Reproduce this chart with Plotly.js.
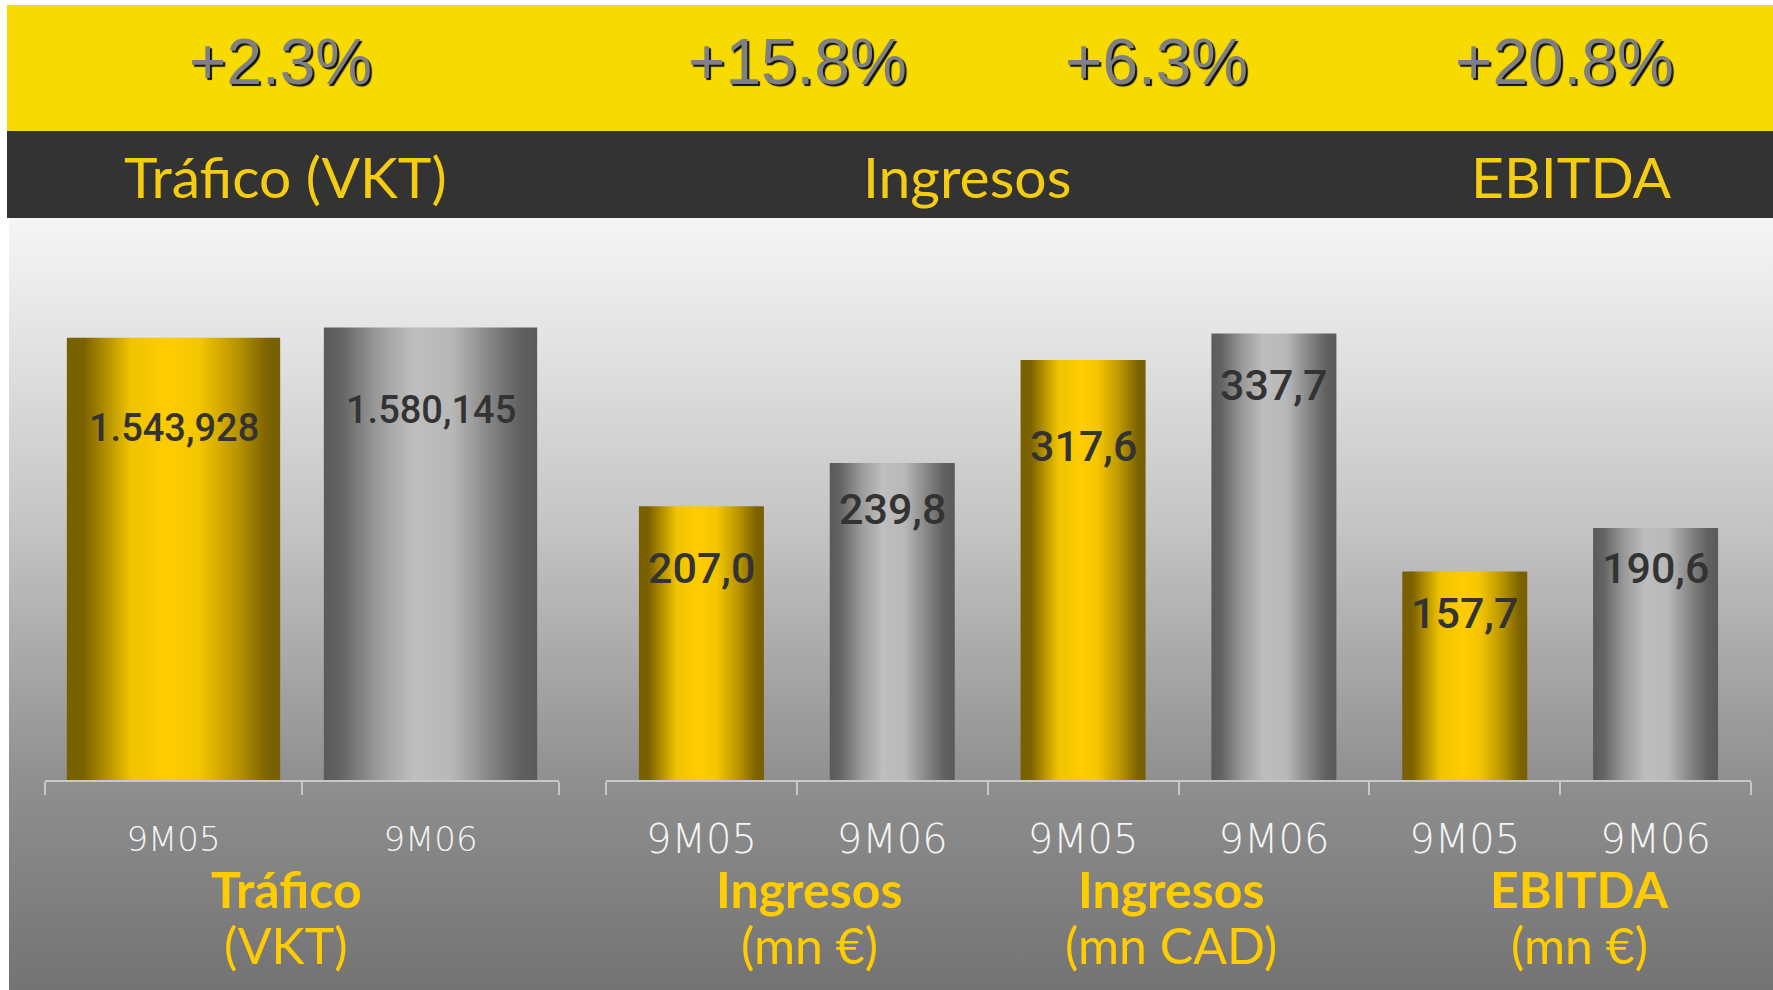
<!DOCTYPE html>
<html>
<head>
<meta charset="utf-8">
<script src="https://cdn.plot.ly/plotly-3.0.1.min.js"></script>
<style>
html, body { margin: 0; padding: 0; background: #ffffff; }
#bg { position: absolute; left: 9px; top: 218px; width: 1764px; height: 772px;
  background: linear-gradient(to bottom, #f5f5f5 0%, #e4e4e4 15%, #c4c4c4 40%, #8f8f8f 73%, #737373 100%); }
#chart { position: absolute; left: 0; top: 0; width: 1773px; height: 990px; }
</style>
</head>
<body>
<div id="bg"></div>
<div id="chart"></div>
<script>
// ---------------- DATA ----------------
const metrics = ["Tráfico", "Ingresos", "Ingresos", "EBITDA"];
const units = ["(VKT)", "(mn €)", "(mn CAD)", "(mn €)"];
const periods = ["9M05", "9M06"];
const values9M05 = [1543.928, 207.0, 317.6, 157.7];
const values9M06 = [1580.145, 239.8, 337.7, 190.6];
const decimals = [3, 1, 1, 1];
const growthLabels = ["+2.3%", "+15.8%", "+6.3%", "+20.8%"];
const headerTitles = ["Tráfico (VKT)", "Ingresos", "EBITDA"];

// ---------------- STYLE ----------------
const W = 1773, H = 990;
const GOLD = "#ffcc00", GRAY = "#a0a0a0";
const px = v => v / W;          // horizontal pixel -> paper
const py = v => (H - v) / H;    // vertical pixel -> paper
const growthX = [280, 797, 1156, 1564];
const headerX = [285, 967, 1571];
const footerX = [286, 809, 1171, 1579];
const labelShift = [-90, -83, -62, -46, -86, -52, -42, -40];

function fmtES(v, d) {
  const parts = v.toFixed(d).split(".");
  parts[0] = parts[0].replace(/\B(?=(\d{3})+(?!\d))/g, ".");
  return parts.join(",");
}

// build categories per group
function groupData(idxs) {
  const x = [], y = [], c = [], t = [], dec = [];
  idxs.forEach(i => {
    [values9M05[i], values9M06[i]].forEach((v, k) => {
      x.push(i + "-" + periods[k]);
      y.push(v);
      c.push(k === 0 ? GOLD : GRAY);
      t.push(periods[k]);
      dec.push(decimals[i]);
    });
  });
  return {x, y, c, t, dec};
}
const g1 = groupData([0]);
const g2 = groupData([1, 2, 3]);

const data = [
  {type: "bar", x: g1.x, y: g1.y, xaxis: "x", yaxis: "y", width: 0.83,
   marker: {color: g1.c, line: {width: 0}}, hoverinfo: "skip", showlegend: false},
  {type: "bar", x: g2.x, y: g2.y, xaxis: "x2", yaxis: "y2", width: 0.655,
   marker: {color: g2.c, line: {width: 0}}, hoverinfo: "skip", showlegend: false}
];

const yDom = [py(780), py(218)];
const tickFont = {family: "DejaVu Sans", weight: 200, color: "#f4f4f4"};
function xAxis(g, dom, size, standoff) {
  return {domain: dom, type: "category", range: [-0.5, g.x.length - 0.5],
    categoryorder: "array", categoryarray: g.x,
    tickmode: "array", tickvals: g.x, ticktext: g.t, tickson: "boundaries",
    ticks: "outside", ticklen: 13, tickwidth: 2, tickcolor: "#c8c8c8",
    showline: true, linecolor: "#c8c8c8", linewidth: 2, showgrid: false,
    zeroline: false, fixedrange: true, ticklabelstandoff: standoff,
    tickfont: Object.assign({size: size}, tickFont)};
}

const annotations = [];
growthLabels.forEach((s, i) => annotations.push({
  xref: "paper", yref: "paper", x: px(growthX[i]), y: py(62), text: s, showarrow: false,
  xanchor: "center", yanchor: "middle",
  font: {family: "Liberation Sans, Arial", size: 64, color: "#808080", shadow: "2px 2px 1px #111"}
}));
headerTitles.forEach((s, i) => annotations.push({
  xref: "paper", yref: "paper", x: px(headerX[i]), y: py(176), text: s, showarrow: false,
  xanchor: "center", yanchor: "middle",
  font: {family: "Lato", size: 57, color: "#f4cc12"}
}));
metrics.forEach((s, i) => {
  annotations.push({xref: "paper", yref: "paper", x: px(footerX[i]), y: py(889), text: s,
    showarrow: false, xanchor: "center", yanchor: "middle",
    font: {family: "Lato", size: 50, weight: 700, color: GOLD}});
  annotations.push({xref: "paper", yref: "paper", x: px(footerX[i]), y: py(945), text: units[i],
    showarrow: false, xanchor: "center", yanchor: "middle",
    font: {family: "Lato", size: 50, color: GOLD}});
});
let li = 0;
[[g1, "x", "y", 38], [g2, "x2", "y2", 43]].forEach(([g, xr, yr, fs]) => {
  g.x.forEach((cat, j) => {
    annotations.push({xref: xr, yref: yr, x: cat, y: g.y[j], text: fmtES(g.y[j], g.dec[j]),
      showarrow: false, xanchor: "center", yanchor: "middle", yshift: labelShift[li++],
      font: {family: "Roboto", size: fs, weight: 500, color: "#333333"}});
  });
});

const layout = {
  width: W, height: H, margin: {l: 0, r: 0, t: 0, b: 0},
  paper_bgcolor: "rgba(0,0,0,0)", plot_bgcolor: "rgba(0,0,0,0)",
  barmode: "overlay", showlegend: false,
  xaxis: xAxis(g1, [px(45), px(559)], 34, 28),
  xaxis2: xAxis(g2, [px(606), px(1751)], 40, 23),
  yaxis: {domain: yDom, range: [0, 1962], visible: false, fixedrange: true},
  yaxis2: {domain: yDom, range: [0, 425], visible: false, fixedrange: true, anchor: "x2"},
  shapes: [
    {type: "rect", xref: "paper", yref: "paper", x0: px(7), x1: 1, y0: py(131), y1: py(5),
     fillcolor: "#f6da00", line: {width: 0}, layer: "below"},
    {type: "rect", xref: "paper", yref: "paper", x0: px(7), x1: 1, y0: py(218), y1: py(131),
     fillcolor: "#333333", line: {width: 0}, layer: "below"}
  ],
  annotations: annotations
};
layout.xaxis2.anchor = "y2";

Plotly.newPlot("chart", data, layout, {staticPlot: true, displayModeBar: false}).then(gd => {
  const ns = "http://www.w3.org/2000/svg";
  const svg = gd.querySelector(".main-svg");
  const defs = svg.querySelector("defs");
  function addGrad(id, stops) {
    const g = document.createElementNS(ns, "linearGradient");
    g.setAttribute("id", id);
    g.setAttribute("x1", "0"); g.setAttribute("x2", "1");
    g.setAttribute("y1", "0"); g.setAttribute("y2", "0");
    stops.forEach(([o, c]) => {
      const s = document.createElementNS(ns, "stop");
      s.setAttribute("offset", o); s.setAttribute("stop-color", c);
      g.appendChild(s);
    });
    defs.appendChild(g);
  }
  addGrad("goldGrad", [[0, "#776000"], [0.08, "#7c6200"], [0.3, "#efc300"], [0.48, "#ffcc00"],
    [0.62, "#f4c600"], [0.8, "#b89400"], [0.94, "#7c6200"], [1, "#776000"]]);
  addGrad("grayGrad", [[0, "#5a5a5a"], [0.08, "#636363"], [0.25, "#9a9a9a"], [0.42, "#bebebe"],
    [0.6, "#b8b8b8"], [0.78, "#858585"], [0.92, "#606060"], [1, "#5a5a5a"]]);
  gd.querySelectorAll(".barlayer .point path").forEach(p => {
    const f = (p.style.fill || "").replace(/\s/g, "");
    p.style.fill = f === "rgb(255,204,0)" ? "url(#goldGrad)" : "url(#grayGrad)";
  });
});
</script>
</body>
</html>
